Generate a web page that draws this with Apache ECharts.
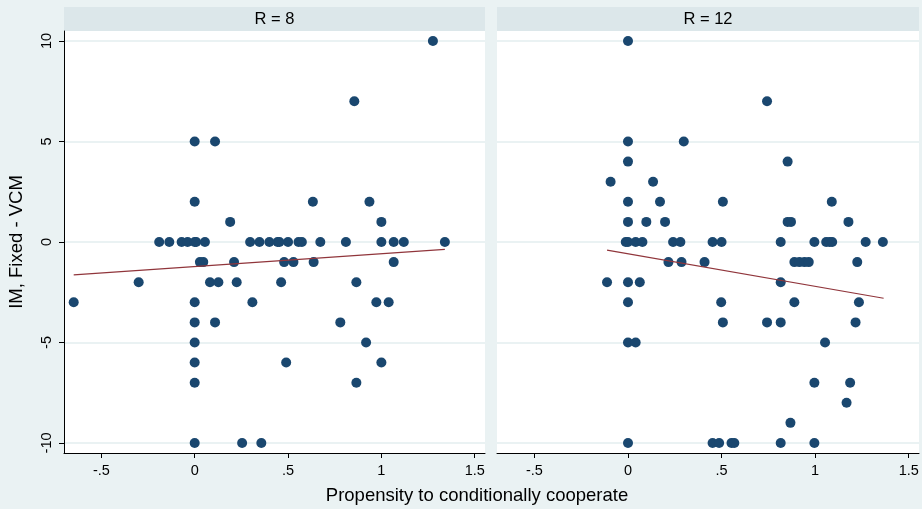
<!DOCTYPE html>
<html>
<head>
<meta charset="utf-8" />
<script src="https://cdn.jsdelivr.net/npm/echarts@6/dist/echarts.min.js"></script>
<style>
  html, body { margin: 0; padding: 0; background: #eaf2f3; }
  #main { width: 922px; height: 509px; }
</style>
</head>
<body>
<div id="main"></div>
<script type="text/javascript">
// panel titles
var panelTitles = ['R = 8', 'R = 12'];
var xTicks = [-0.5, 0, 0.5, 1, 1.5];
var xTickLabels = ['-.5', '0', '.5', '1', '1.5'];
var yTicks = [-10, -5, 0, 5, 10];
var yTickLabels = ['-10', '-5', '0', '5', '10'];

// R = 8 panel (x: propensity, y: IM fixed - VCM)
var leftX = [1.276, 0.855, 0, 0.109, 0, 0.633, 0.936, 0.19, 1.0,
  -0.19, -0.136, -0.07, -0.038, 0, 0.008, 0.055, 0.297, 0.347, 0.40, 0.444, 0.454, 0.50, 0.556, 0.574, 0.673, 0.81, 1.0, 1.066, 1.12, 1.34,
  0.028, 0.046, 0.211, 0.479, 0.529, 0.637, 1.066,
  -0.30, 0.082, 0.127, 0.225, 0.463, 0.866,
  -0.648, 0, 0.309, 0.973, 1.039,
  0, 0.109, 0.78,
  0, 0.918,
  0, 0.49, 1.0,
  0, 0.866,
  0, 0.254, 0.357];
var leftY = [10, 7, 5, 5, 2, 2, 2, 1, 1,
  0, 0, 0, 0, 0, 0, 0, 0, 0, 0, 0, 0, 0, 0, 0, 0, 0, 0, 0, 0, 0,
  -1, -1, -1, -1, -1, -1, -1,
  -2, -2, -2, -2, -2, -2,
  -3, -3, -3, -3, -3,
  -4, -4, -4,
  -5, -5,
  -6, -6, -6,
  -7, -7,
  -10, -10, -10];

// R = 12 panel
var rightX = [0, 0.743, 0, 0.298, 0, 0.853, -0.093, 0.134,
  0, 0.171, 0.507, 1.089,
  0, 0.098, 0.198, 0.853, 0.871, 1.178,
  -0.012, 0, 0.041, 0.077, 0.241, 0.28, 0.452, 0.5, 0.816, 0.996, 1.059, 1.077, 1.091, 1.27, 1.362,
  0.216, 0.286, 0.409, 0.889, 0.916, 0.943, 0.966, 1.225,
  -0.112, 0, 0.063, 0.816,
  0, 0.498, 0.889, 1.234,
  0.507, 0.743, 0.816, 1.216,
  0, 0.041, 1.053,
  0.996, 1.187,
  1.168,
  0.868,
  0, 0.452, 0.487, 0.553, 0.568, 0.816, 0.996];
var rightY = [10, 7, 5, 5, 4, 4, 3, 3,
  2, 2, 2, 2,
  1, 1, 1, 1, 1, 1,
  0, 0, 0, 0, 0, 0, 0, 0, 0, 0, 0, 0, 0, 0, 0,
  -1, -1, -1, -1, -1, -1, -1, -1,
  -2, -2, -2, -2,
  -3, -3, -3, -3,
  -4, -4, -4, -4,
  -5, -5, -5,
  -7, -7,
  -8,
  -9,
  -10, -10, -10, -10, -10, -10, -10];

// fitted lines (end points)
var leftFitX = [-0.648, 1.34];
var leftFitY = [-1.64, -0.37];
var rightFitX = [-0.112, 1.366];
var rightFitY = [-0.40, -2.80];

function pairs(xs, ys) {
  return xs.map(function (x, i) { return [x, ys[i]]; });
}

var myChart = echarts.init(document.getElementById('main'));

var font = 'Liberation Sans, Arial, Helvetica, sans-serif';
var navy = '#1a476f';
var maroon = '#90353b';
var gridColor = '#eaf2f3';

var grids = [
  { left: 64, top: 31, width: 421, height: 422 },
  { left: 497, top: 31, width: 422, height: 422 }
];

function makeX(i) {
  return {
    type: 'value', gridIndex: i, min: -0.70, max: 1.555,
    axisLine: { show: true, onZero: false, lineStyle: { color: '#000', width: 1 } },
    axisTick: { show: true, length: 5, customValues: xTicks, lineStyle: { color: '#000' } },
    axisLabel: {
      show: true, customValues: xTicks, color: '#000', fontSize: 14.5, fontFamily: font, margin: 10,
      formatter: function (v) { return xTickLabels[xTicks.indexOf(v)]; }
    },
    splitLine: { show: false }
  };
}
function makeY(i) {
  var first = i === 0;
  return {
    type: 'value', gridIndex: i, min: -10.5, max: 10.5,
    axisLine: { show: first, onZero: false, lineStyle: { color: '#000', width: 1 } },
    axisTick: { show: first, length: 5, customValues: yTicks, lineStyle: { color: '#000' } },
    axisLabel: {
      show: first, customValues: yTicks, rotate: 90, color: '#000', fontSize: 14.5, fontFamily: font, margin: 10,
      formatter: function (v) { return yTickLabels[yTicks.indexOf(v)]; }
    },
    splitLine: { show: true, lineStyle: { color: gridColor, width: 2 } }
  };
}

var graphics = [];
grids.forEach(function (g, i) {
  graphics.push({
    type: 'rect', shape: { x: g.left, y: 7, width: g.width, height: 24 },
    style: { fill: '#dce7ea' }, silent: true, z: -1
  });
  graphics.push({
    type: 'rect', shape: { x: g.left, y: g.top, width: g.width, height: g.height },
    style: { fill: '#ffffff' }, silent: true, z: -2
  });
  graphics.push({
    type: 'text', x: g.left + g.width / 2, y: 19,
    style: { text: panelTitles[i], fill: '#000', fontSize: 16.5, fontFamily: font, textAlign: 'center', textVerticalAlign: 'middle' }
  });
});
graphics.push({
  type: 'text', x: 477, y: 496,
  style: { text: 'Propensity to conditionally cooperate', fill: '#000', fontSize: 18.5, fontFamily: font, textAlign: 'center', textVerticalAlign: 'middle' }
});
graphics.push({
  type: 'text', x: 17, y: 242, rotation: Math.PI / 2,
  style: { text: 'IM, Fixed - VCM', fill: '#000', fontSize: 18.5, fontFamily: font, textAlign: 'center', textVerticalAlign: 'middle' }
});

var option = {
  backgroundColor: '#eaf2f3',
  animation: false,
  grid: grids,
  xAxis: [makeX(0), makeX(1)],
  yAxis: [makeY(0), makeY(1)],
  graphic: graphics,
  series: [
    { type: 'scatter', xAxisIndex: 0, yAxisIndex: 0, data: pairs(leftX, leftY),
      symbolSize: 10, itemStyle: { color: navy, opacity: 1 }, z: 3 },
    { type: 'scatter', xAxisIndex: 1, yAxisIndex: 1, data: pairs(rightX, rightY),
      symbolSize: 10, itemStyle: { color: navy, opacity: 1 }, z: 3 },
    { type: 'line', xAxisIndex: 0, yAxisIndex: 0, data: pairs(leftFitX, leftFitY),
      symbol: 'none', lineStyle: { color: maroon, width: 1.2 }, z: 4 },
    { type: 'line', xAxisIndex: 1, yAxisIndex: 1, data: pairs(rightFitX, rightFitY),
      symbol: 'none', lineStyle: { color: maroon, width: 1.2 }, z: 4 }
  ]
};

myChart.setOption(option);
</script>
</body>
</html>
